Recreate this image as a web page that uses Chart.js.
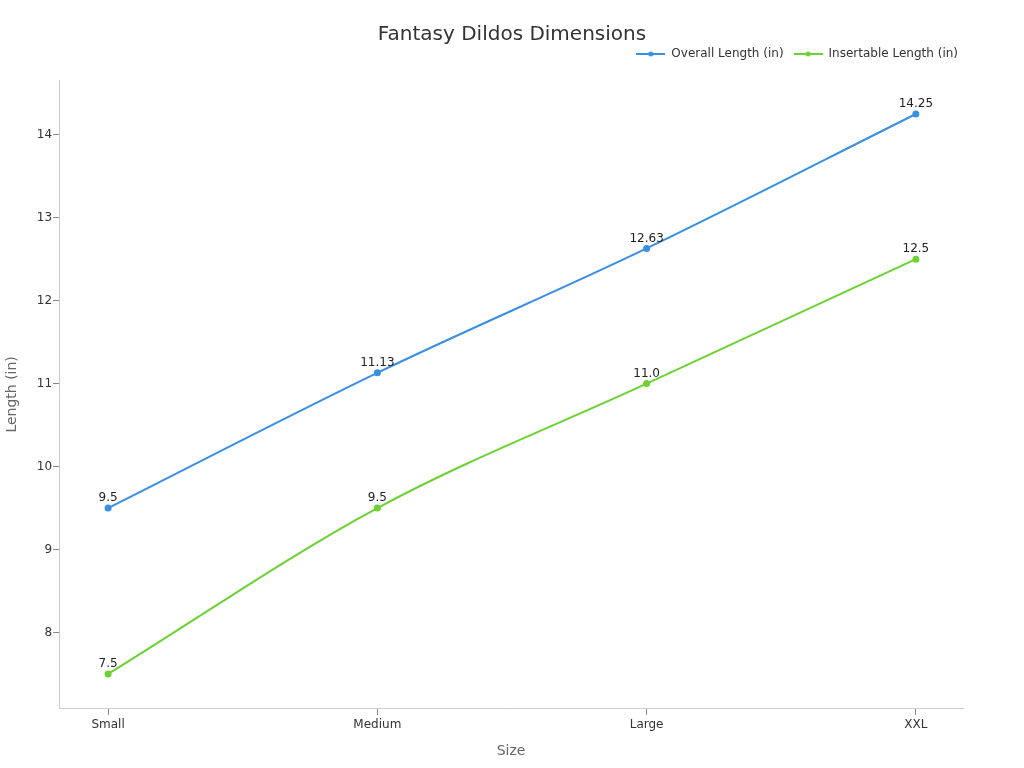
<!DOCTYPE html>
<html>
<head>
<meta charset="utf-8">
<script src="https://cdn.jsdelivr.net/npm/chart.js@4"></script>
<style>
  html, body { margin: 0; padding: 0; background: #fff; }
  #wrap { width: 1024px; height: 768px; }
</style>
</head>
<body>
<div id="wrap"><canvas id="sizeChart"></canvas></div>
<script>
const sizes = ['Small', 'Medium', 'Large', 'XXL'];
const overallLength = [9.5, 11.13, 12.63, 14.25];
const insertableLength = [7.5, 9.5, 11.0, 12.5];
const yTicks = [8, 9, 10, 11, 12, 13, 14];

const FONT = "'DejaVu Sans', sans-serif";
const BLUE = '#3a8fe4';
const GREEN = '#6cd232';

// small line-with-dot marker used in the legend
function legendMarker(color) {
    const c = document.createElement('canvas');
    c.width = 29;
    c.height = 6;
    const g = c.getContext('2d');
    g.strokeStyle = color;
    g.lineWidth = 2;
    g.beginPath();
    g.moveTo(0, 3);
    g.lineTo(29, 3);
    g.stroke();
    g.fillStyle = color;
    g.beginPath();
    g.arc(14.5, 3, 2.5, 0, Math.PI * 2);
    g.fill();
    return c;
}
const markers = [legendMarker(BLUE), legendMarker(GREEN)];

// write each value just above its point
const pointLabels = {
    id: 'pointLabels',
    afterDatasetsDraw(chart) {
        const ctx = chart.ctx;
        ctx.save();
        ctx.font = '12px ' + FONT;
        ctx.fillStyle = '#222';
        ctx.textAlign = 'center';
        ctx.textBaseline = 'bottom';
        chart.data.datasets.forEach((ds, i) => {
            chart.getDatasetMeta(i).data.forEach((pt, j) => {
                const v = ds.data[j].y;
                const txt = Number.isInteger(v) ? v.toFixed(1) : String(v);
                ctx.fillText(txt, pt.x, pt.y - 4);
            });
        });
        ctx.restore();
    }
};

// title centred on the whole canvas, legend pushed a bit right, extra gap under legend
const layoutTweaks = {
    id: 'layoutTweaks',
    beforeInit(chart) {
        const legend = chart.legend;
        if (legend) {
            const fit = legend.fit;
            legend.fit = function () {
                fit.call(this);
                this.height += 10;
            };
        }
    },
    afterLayout(chart) {
        chart.titleBlock.left = 0;
        chart.titleBlock.right = chart.width;
        chart.legend.right = chart.chartArea.right + 5;
    }
};

function toPoints(values) {
    return values.map((v, i) => ({ x: i, y: v }));
}

new Chart(document.getElementById('sizeChart').getContext('2d'), {
    type: 'line',
    data: {
        datasets: [{
            label: 'Overall Length (in)',
            data: toPoints(overallLength),
            borderColor: BLUE,
            backgroundColor: BLUE,
            borderWidth: 2,
            pointRadius: 2.5,
            cubicInterpolationMode: 'monotone'
        }, {
            label: 'Insertable Length (in)',
            data: toPoints(insertableLength),
            borderColor: GREEN,
            backgroundColor: GREEN,
            borderWidth: 2,
            pointRadius: 2.5,
            cubicInterpolationMode: 'monotone'
        }]
    },
    options: {
        responsive: true,
        maintainAspectRatio: false,
        animation: false,
        layout: { padding: { top: 10, right: 61, left: 0, bottom: 4 } },
        plugins: {
            title: {
                display: true,
                text: 'Fantasy Dildos Dimensions',
                color: '#333',
                font: { family: FONT, size: 20, weight: 'normal' },
                padding: { top: 13, bottom: -9 }
            },
            legend: {
                align: 'end',
                labels: {
                    color: '#333',
                    font: { family: FONT, size: 12 },
                    usePointStyle: true,
                    pointStyleWidth: 29,
                    padding: 10,
                    generateLabels(chart) {
                        const items = Chart.defaults.plugins.legend.labels.generateLabels(chart);
                        items.forEach((it, i) => { it.pointStyle = markers[i]; });
                        return items;
                    }
                }
            },
            tooltip: { enabled: false }
        },
        scales: {
            x: {
                type: 'linear',
                min: -0.182,
                max: 3.175,
                afterBuildTicks: axis => { axis.ticks = sizes.map((s, i) => ({ value: i })); },
                ticks: {
                    color: '#333',
                    font: { family: FONT, size: 12 },
                    callback: v => sizes[v],
                    padding: 3
                },
                grid: { drawOnChartArea: false, tickLength: 6, color: '#888' },
                border: { color: '#ccc' },
                title: {
                    display: true,
                    text: 'Size',
                    color: '#666',
                    font: { family: FONT, size: 14 },
                    padding: { top: 8 }
                }
            },
            y: {
                min: 7.08,
                max: 14.66,
                afterBuildTicks: axis => { axis.ticks = yTicks.map(v => ({ value: v })); },
                ticks: {
                    color: '#333',
                    font: { family: FONT, size: 12 },
                    padding: 1
                },
                grid: { drawOnChartArea: false, tickLength: 6, color: '#888' },
                border: { color: '#ccc' },
                title: {
                    display: true,
                    text: 'Length (in)',
                    color: '#666',
                    font: { family: FONT, size: 14 },
                    padding: { bottom: 15 }
                }
            }
        }
    },
    plugins: [pointLabels, layoutTweaks]
});
</script>
</body>
</html>
